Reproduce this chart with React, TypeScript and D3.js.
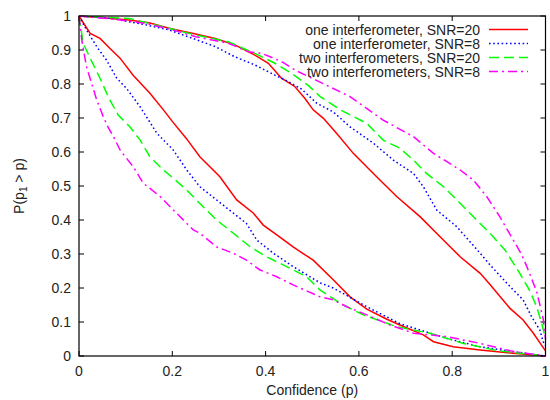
import React from "react";
import * as d3 from "d3";

type Pt = [number, number];

const xTicks = [0, 0.2, 0.4, 0.6, 0.8, 1];
const yTicks = [0, 0.1, 0.2, 0.3, 0.4, 0.5, 0.6, 0.7, 0.8, 0.9, 1];

const seriesNames = [
  "one interferometer, SNR=20",
  "one interferometer, SNR=8",
  "two interferometers, SNR=20",
  "two interferometers, SNR=8",
];
const seriesColors = ["#ff0000", "#0000ff", "#00ff00", "#ff00ff"];
const seriesDash = ["", "1.6,2.6", "10,5", "9,4,2,4"];

const redUpper: Pt[] = [
  [0, 1], [0.05, 0.995], [0.107, 0.988], [0.15, 0.98], [0.193, 0.964], [0.25, 0.947],
  [0.292, 0.934], [0.334, 0.915], [0.377, 0.885], [0.406, 0.861], [0.434, 0.817],
  [0.463, 0.792], [0.484, 0.758], [0.502, 0.724], [0.524, 0.699], [0.552, 0.655],
  [0.588, 0.596], [0.638, 0.527], [0.681, 0.469], [0.731, 0.41], [0.774, 0.351],
  [0.817, 0.292], [0.86, 0.243], [0.881, 0.21], [0.924, 0.14], [0.952, 0.106],
  [0.974, 0.067], [0.99, 0.035], [1, 0.015],
];
const redLower: Pt[] = [
  [0, 1], [0.024, 0.949], [0.045, 0.934], [0.066, 0.905], [0.088, 0.876], [0.116, 0.826],
  [0.152, 0.773], [0.181, 0.724], [0.2, 0.69], [0.23, 0.64], [0.259, 0.586], [0.302, 0.527],
  [0.338, 0.459], [0.374, 0.42], [0.395, 0.385], [0.424, 0.356], [0.459, 0.321],
  [0.474, 0.307], [0.502, 0.282], [0.545, 0.224], [0.581, 0.174], [0.617, 0.138],
  [0.66, 0.108], [0.688, 0.091], [0.738, 0.062], [0.76, 0.042], [0.802, 0.027],
  [0.86, 0.018], [0.931, 0.008], [1, 0],
];
const blueUpper: Pt[] = [
  [0, 1], [0.07, 0.993], [0.143, 0.974], [0.193, 0.959], [0.25, 0.931], [0.292, 0.91],
  [0.334, 0.88], [0.377, 0.856], [0.42, 0.826], [0.442, 0.812], [0.477, 0.785],
  [0.51, 0.743], [0.545, 0.718], [0.581, 0.674], [0.631, 0.626], [0.674, 0.576],
  [0.717, 0.537], [0.738, 0.498], [0.767, 0.429], [0.81, 0.38], [0.86, 0.302],
  [0.881, 0.268], [0.924, 0.204], [0.952, 0.165], [0.97, 0.116], [0.988, 0.076],
  [0.995, 0.042], [1, 0.03],
];
const blueLower: Pt[] = [
  [0, 1], [0.016, 0.959], [0.038, 0.91], [0.059, 0.87], [0.081, 0.817], [0.102, 0.787],
  [0.131, 0.733], [0.167, 0.655], [0.202, 0.606], [0.231, 0.547], [0.259, 0.498],
  [0.295, 0.459], [0.331, 0.42], [0.359, 0.39], [0.381, 0.341], [0.417, 0.302],
  [0.459, 0.263], [0.517, 0.215], [0.545, 0.2], [0.617, 0.145], [0.688, 0.095],
  [0.788, 0.052], [0.86, 0.027], [0.931, 0.013], [1, 0],
];
const greenUpper: Pt[] = [
  [0, 1], [0.107, 0.993], [0.178, 0.969], [0.25, 0.944], [0.32, 0.924], [0.377, 0.89],
  [0.42, 0.861], [0.456, 0.831], [0.492, 0.795], [0.517, 0.763], [0.56, 0.724],
  [0.617, 0.684], [0.652, 0.635], [0.688, 0.611], [0.717, 0.576], [0.745, 0.537],
  [0.781, 0.498], [0.81, 0.459], [0.845, 0.41], [0.881, 0.361], [0.913, 0.312],
  [0.945, 0.243], [0.967, 0.19], [0.981, 0.145], [0.992, 0.096], [1, 0.05],
];
const greenLower: Pt[] = [
  [0, 1], [0.009, 0.92], [0.024, 0.876], [0.045, 0.817], [0.066, 0.753], [0.084, 0.709],
  [0.109, 0.674], [0.131, 0.635], [0.152, 0.586], [0.181, 0.547], [0.202, 0.523],
  [0.231, 0.488], [0.266, 0.439], [0.295, 0.4], [0.331, 0.361], [0.367, 0.321],
  [0.402, 0.292], [0.445, 0.263], [0.488, 0.233], [0.517, 0.194], [0.56, 0.155],
  [0.609, 0.121], [0.681, 0.086], [0.752, 0.067], [0.824, 0.037], [0.9, 0.015], [1, 0],
];
const magentaUpper: Pt[] = [
  [0, 1], [0.08, 0.99], [0.143, 0.978], [0.186, 0.964], [0.214, 0.954], [0.25, 0.939],
  [0.32, 0.92], [0.363, 0.895], [0.392, 0.89], [0.434, 0.866], [0.463, 0.841],
  [0.51, 0.81], [0.581, 0.763], [0.652, 0.694], [0.717, 0.645], [0.76, 0.596],
  [0.817, 0.547], [0.845, 0.518], [0.874, 0.469], [0.902, 0.41], [0.931, 0.341],
  [0.949, 0.298], [0.96, 0.263], [0.981, 0.19], [0.995, 0.11], [1, 0.05],
];
const magentaLower: Pt[] = [
  [0, 1], [0.006, 0.929], [0.016, 0.851], [0.027, 0.802], [0.038, 0.753], [0.052, 0.704],
  [0.062, 0.674], [0.074, 0.645], [0.088, 0.606], [0.116, 0.557], [0.138, 0.508],
  [0.174, 0.469], [0.209, 0.42], [0.245, 0.371], [0.259, 0.361], [0.295, 0.321],
  [0.331, 0.302], [0.359, 0.282], [0.388, 0.253], [0.424, 0.233], [0.459, 0.209],
  [0.517, 0.174], [0.545, 0.165], [0.574, 0.145], [0.617, 0.121], [0.667, 0.091],
  [0.717, 0.067], [0.788, 0.057], [0.86, 0.037], [0.931, 0.013], [1, 0],
];

const seriesCurves: Pt[][][] = [
  [redUpper, redLower],
  [blueUpper, blueLower],
  [greenUpper, greenLower],
  [magentaUpper, magentaLower],
];

const W = 550;
const H = 400;
const left = 79;
const right = 545.5;
const top = 16;
const bottom = 356;

export default function App() {
  const x = d3.scaleLinear().domain([0, 1]).range([left, right]);
  const y = d3.scaleLinear().domain([0, 1]).range([bottom, top]);
  const line = d3
    .line<Pt>()
    .x((d) => x(d[0]))
    .y((d) => y(d[1]));
  const font = "'Liberation Sans', Arial, Helvetica, sans-serif";
  const tick = 5;

  return (
    <svg
      width={W}
      height={H}
      style={{ position: "absolute", left: 0, top: 0, background: "#fff" }}
      fontFamily={font}
      fontSize={14}
    >
      <rect x={0} y={0} width={W} height={H} fill="#fff" />
      {/* ticks */}
      {yTicks.map((t) => (
        <g key={"y" + t}>
          <line x1={left} x2={left + tick} y1={y(t)} y2={y(t)} stroke="#000" strokeWidth={1} />
          <line x1={right} x2={right - tick} y1={y(t)} y2={y(t)} stroke="#000" strokeWidth={1} />
          <text x={71} y={y(t) + 5} textAnchor="end" fill="#222">
            {t === 0 || t === 1 ? String(t) : t.toFixed(1)}
          </text>
        </g>
      ))}
      {xTicks.map((t) => (
        <g key={"x" + t}>
          <line x1={x(t)} x2={x(t)} y1={bottom} y2={bottom - tick} stroke="#000" strokeWidth={1} />
          <line x1={x(t)} x2={x(t)} y1={top} y2={top + tick} stroke="#000" strokeWidth={1} />
          <text x={x(t)} y={376} textAnchor="middle" fill="#222">
            {t === 0 || t === 1 ? String(t) : t.toFixed(1)}
          </text>
        </g>
      ))}
      {/* curves */}
      {seriesCurves.map((curves, i) =>
        curves.map((c, j) => (
          <path
            key={i + "-" + j}
            d={line(c) || ""}
            fill="none"
            stroke={seriesColors[i]}
            strokeWidth={1.5}
            strokeDasharray={seriesDash[i] || undefined}
          />
        ))
      )}
      {/* border */}
      <rect
        x={left}
        y={top}
        width={right - left}
        height={bottom - top}
        fill="none"
        stroke="#000"
        strokeWidth={1.2}
      />
      {/* legend */}
      {seriesNames.map((n, i) => {
        const cy = 29.5 + i * 14;
        return (
          <g key={"lg" + i}>
            <text x={480} y={cy + 5} textAnchor="end" fill="#222">
              {n}
            </text>
            <line
              x1={489}
              x2={528}
              y1={cy}
              y2={cy}
              stroke={seriesColors[i]}
              strokeWidth={1.5}
              strokeDasharray={seriesDash[i] || undefined}
            />
          </g>
        );
      })}
      {/* axis labels */}
      <text x={(left + right) / 2} y={395} textAnchor="middle" fill="#222">
        Confidence (p)
      </text>
      <text
        transform={`translate(24, ${(top + bottom) / 2}) rotate(-90)`}
        textAnchor="middle"
        fill="#222"
      >
        P(p
        <tspan fontSize={10} dy={3}>
          1
        </tspan>
        <tspan dy={-3}> &gt; p)</tspan>
      </text>
    </svg>
  );
}
